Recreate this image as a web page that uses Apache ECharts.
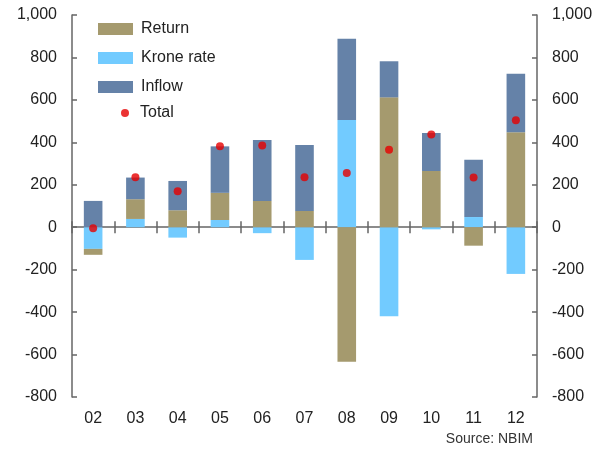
<!DOCTYPE html>
<html>
<head>
<meta charset="utf-8">
<script src="https://cdn.jsdelivr.net/npm/echarts@6/dist/echarts.min.js"></script>
<style>
  html, body { margin: 0; padding: 0; background: #fff; }
  #chart { width: 608px; height: 450px; }
</style>
</head>
<body>
<div id="chart"></div>
<script>
const years = ["02", "03", "04", "05", "06", "07", "08", "09", "10", "11", "12"];
const returnVals = [-28, 93, 80, 128, 124, 77, -634, 612, 265, -87, 447];
const kroneVals = [-102, 39, -49, 34, -28, -154, 505, -419, -10, 48, -220];
const inflowVals = [124, 102, 138, 219, 287, 311, 383, 170, 179, 270, 276];
const totalVals = [-5, 236, 170, 382, 385, 236, 256, 365, 437, 234, 504];

const axisColor = "#666";
const textColor = "#222";
const fontFamily = "Liberation Sans, Arial, sans-serif";

const chart = echarts.init(document.getElementById("chart"));

const yAxisBase = {
  type: "value",
  min: -800,
  max: 1000,
  interval: 200,
  splitLine: { show: false },
  axisLine: { show: true, lineStyle: { color: axisColor, width: 1.5 } },
  axisTick: { show: true, inside: true, length: 5, lineStyle: { color: axisColor, width: 1.5 } },
  axisLabel: {
    color: textColor,
    fontSize: 16,
    fontFamily,
    margin: 15,
    formatter: (v) => v.toLocaleString("en-US"),
  },
};

chart.setOption({
  animation: false,
  textStyle: { fontFamily },
  grid: { left: 72, right: 71, top: 15, bottom: 53 },
  title: {
    text: "Source: NBIM",
    right: 70,
    bottom: -1,
    textStyle: { fontSize: 14, fontWeight: "normal", color: "#333", fontFamily },
  },
  legend: [
    {
      orient: "vertical",
      left: 93,
      top: 16,
      itemWidth: 35,
      itemHeight: 12,
      itemGap: 13,
      icon: "rect",
      selectedMode: false,
      textStyle: { fontSize: 16, color: textColor, fontFamily, padding: [0, 0, 0, 3] },
      data: ["Return", "Krone rate", "Inflow"],
    },
    {
      orient: "vertical",
      left: 116,
      top: 100,
      itemWidth: 8,
      itemHeight: 8,
      selectedMode: false,
      textStyle: { fontSize: 16, color: textColor, fontFamily, padding: [0, 0, 0, 6] },
      data: [{ name: "Total", icon: "circle" }],
    },
  ],
  xAxis: [
    {
      type: "category",
      data: years,
      position: "bottom",
      axisLine: { show: false, onZero: false },
      axisTick: { show: false },
      axisLabel: { color: textColor, fontSize: 16, fontFamily, margin: 14 },
    },
    {
      type: "category",
      data: years,
      position: "bottom",
      axisLine: { show: true, onZero: true, lineStyle: { color: axisColor, width: 1.5 } },
      axisTick: { show: true, length: 6, lineStyle: { color: axisColor, width: 1.5 } },
      axisLabel: { show: false },
    },
    {
      type: "category",
      data: years,
      position: "top",
      axisLine: { show: false, onZero: true },
      axisTick: { show: true, length: 6, lineStyle: { color: axisColor, width: 1.5 } },
      axisLabel: { show: false },
    },
  ],
  yAxis: [
    Object.assign({}, yAxisBase, { position: "left" }),
    Object.assign({}, yAxisBase, { position: "right" }),
  ],
  series: [
    {
      name: "Krone rate",
      type: "bar",
      stack: "total",
      barWidth: "44%",
      itemStyle: { color: "#72cbff" },
      data: kroneVals,
    },
    {
      name: "Return",
      type: "bar",
      stack: "total",
      barWidth: "44%",
      itemStyle: { color: "#a59a6e" },
      data: returnVals,
    },
    {
      name: "Inflow",
      type: "bar",
      stack: "total",
      barWidth: "44%",
      itemStyle: { color: "#6582a8" },
      data: inflowVals,
    },
    {
      name: "Total",
      type: "scatter",
      symbol: "circle",
      symbolSize: 8,
      itemStyle: { color: "#e60000" },
      z: 5,
      data: totalVals,
    },
  ],
});
</script>
</body>
</html>
